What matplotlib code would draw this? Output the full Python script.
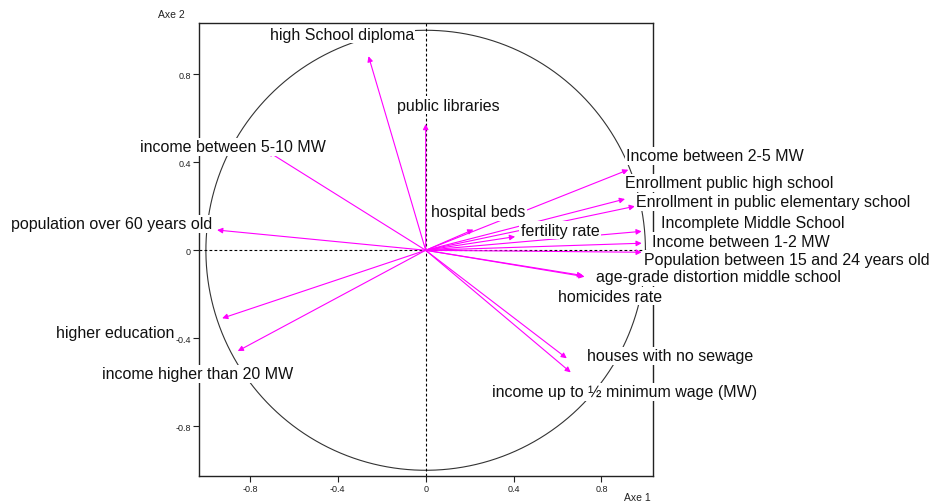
import matplotlib
matplotlib.use("Agg")
import matplotlib.pyplot as plt
import numpy as np

plt.rcParams['font.family'] = ['Liberation Sans', 'DejaVu Sans']

variables = [
    "high School diploma", "public libraries", "income between 5-10 MW",
    "population over 60 years old", "higher education", "income higher than 20 MW",
    "Income between 2-5 MW", "Enrollment public high school",
    "Enrollment in public elementary school", "Incomplete Middle School",
    "Income between 1-2 MW", "Population between 15 and 24 years old",
    "hospital beds", "fertility rate", "age-grade distortion middle school",
    "homicides rate", "houses with no sewage", "income up to \u00bd minimum wage (MW)",
]
axe1 = [-0.26, 0.0, -0.72, -0.949, -0.926, -0.855, 0.922, 0.907, 0.952, 0.983,
        0.983, 0.983, 0.217, 0.407, 0.723, 0.716, 0.642, 0.66]
axe2 = [0.882, 0.574, 0.45, 0.092, -0.309, -0.458, 0.366, 0.233, 0.2, 0.086,
        0.032, -0.009, 0.094, 0.062, -0.12, -0.115, -0.491, -0.555]

# label placement (centre of each label, data units)
label_x = [-0.382, 0.102, -0.877, -1.427, -1.412, -1.036, 1.316, 1.38, 1.58, 1.489,
           1.432, 1.645, 0.241, 0.611, 1.33, 0.839, 1.114, 0.907]
label_y = [0.983, 0.66, 0.47, 0.12, -0.376, -0.562, 0.429, 0.306, 0.22, 0.124,
           0.042, -0.04, 0.174, 0.092, -0.121, -0.208, -0.48, -0.644]

ticks = [-0.8, -0.4, 0, 0.4, 0.8]
tick_labels = ["-0.8", "-0.4", "0", "0.4", "0.8"]

fig = plt.figure(figsize=(9.33, 5.02), dpi=100)
ax = fig.add_axes([199.3 / 933, 1 - 477 / 502, (652.7 - 199.3) / 933, (477 - 24) / 502])
ax.set_xlim(-1.03, 1.033)
ax.set_ylim(-1.026, 1.033)

for s in ax.spines.values():
    s.set_linewidth(1.0)
    s.set_color("#222222")

ax.set_xticks(ticks)
ax.set_xticklabels(tick_labels)
ax.set_yticks(ticks)
ax.set_yticklabels(tick_labels)
ax.tick_params(direction="out", length=4, width=0.8, labelsize=6.5, colors="#222222", pad=2)

# circle
t = np.linspace(0, 2 * np.pi, 400)
ax.plot(np.cos(t), np.sin(t), color="#333333", lw=0.8, zorder=1)
ax.axhline(0, color="black", lw=0.8, ls=(0, (2.5, 2)), zorder=1)
ax.axvline(0, color="black", lw=0.8, ls=(0, (2.5, 2)), zorder=1)

for xv, yv in zip(axe1, axe2):
    ax.annotate("", xy=(xv, yv), xytext=(0, 0),
                arrowprops=dict(arrowstyle="-|>", color="#ff00ff", lw=0.8,
                                mutation_scale=8, shrinkA=0, shrinkB=0),
                zorder=3)

for name, lx, ly in zip(variables, label_x, label_y):
    ax.text(lx, ly, name, ha="center", va="center", fontsize=11.5, color="#111111",
            clip_on=False, zorder=10,
            bbox=dict(facecolor="white", edgecolor="none", pad=1.0))

fig.text(637 / 933, 1 - 498 / 502, "Axe 1", ha="center", va="center", fontsize=7.5, color="#222222")
fig.text(171 / 933, 1 - 15 / 502, "Axe 2", ha="center", va="center", fontsize=7.5, color="#222222")

fig.savefig("out.png", dpi=100)
